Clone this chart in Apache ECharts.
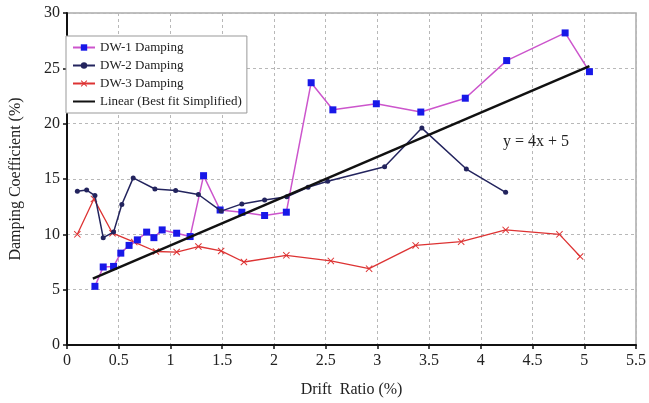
<!DOCTYPE html>
<html>
<head>
<meta charset="utf-8">
<script src="https://cdn.jsdelivr.net/npm/echarts@6/dist/echarts.min.js"></script>
<style>
  html, body { margin: 0; padding: 0; background: #fff; }
  #chart { width: 649px; height: 403px; }
</style>
</head>
<body>
<div id="chart"></div>
<script>
// Damping coefficient (%) against drift ratio (%) for three walls
const dw1Drift = [0.27, 0.35, 0.45, 0.52, 0.60, 0.68, 0.77, 0.84, 0.92, 1.06, 1.19, 1.32, 1.48, 1.69, 1.91, 2.12, 2.36, 2.57, 2.99, 3.42, 3.85, 4.25, 4.815, 5.05];
const dw1Damping = [5.3, 7.05, 7.1, 8.3, 9.0, 9.5, 10.2, 9.7, 10.4, 10.1, 9.8, 15.3, 12.2, 12.0, 11.7, 12.0, 23.7, 21.25, 21.8, 21.05, 22.3, 25.7, 28.2, 24.7];

const dw2Drift = [0.10, 0.19, 0.27, 0.35, 0.45, 0.53, 0.64, 0.85, 1.05, 1.27, 1.49, 1.69, 1.91, 2.125, 2.33, 2.52, 3.07, 3.43, 3.86, 4.24];
const dw2Damping = [13.9, 14.0, 13.5, 9.7, 10.2, 12.7, 15.1, 14.1, 13.96, 13.6, 12.1, 12.75, 13.1, 13.4, 14.25, 14.8, 16.1, 19.6, 15.9, 13.8];

const dw3Drift = [0.10, 0.26, 0.44, 0.65, 0.86, 1.06, 1.27, 1.49, 1.71, 2.12, 2.55, 2.92, 3.37, 3.81, 4.24, 4.76, 4.96];
const dw3Damping = [10.0, 13.2, 10.1, 9.3, 8.45, 8.4, 8.9, 8.5, 7.5, 8.1, 7.6, 6.9, 9.0, 9.34, 10.4, 10.0, 8.0];

// simplified best fit y = 4x + 5, drawn between its two end points
const fitDrift = [0.25, 5.05];
const fitDamping = [6.0, 25.2];

const seriesNames = ['DW-1 Damping', 'DW-2 Damping', 'DW-3 Damping', 'Linear (Best fit Simplified)'];
const equationText = 'y = 4x + 5';
const xTitle = 'Drift  Ratio (%)';
const yTitle = 'Damping Coefficient (%)';

const pairs = (xs, ys) => xs.map((x, i) => [x, ys[i]]);
const serif = 'Liberation Serif';
const crossSymbol = 'path://M0,1L1,0L5,4L9,0L10,1L6,5L10,9L9,10L5,6L1,10L0,9L4,5Z';

const chart = echarts.init(document.getElementById('chart'), null, { renderer: 'canvas' });

const gridLine = { show: true, lineStyle: { color: '#b8b8b8', type: [3, 3], width: 1 } };

chart.setOption({
  animation: false,
  backgroundColor: '#fff',
  grid: { left: 62, right: 13, top: 13, bottom: 56, show: true, borderColor: '#aaaaaa', borderWidth: 1.5 },
  xAxis: {
    type: 'value', min: 0, max: 5.5, interval: 0.5,
    name: xTitle, nameLocation: 'middle', nameGap: 37,
    nameTextStyle: { fontFamily: serif, fontSize: 16, color: '#222' },
    axisLine: { show: true, onZero: false, lineStyle: { color: '#111', width: 2 } },
    axisTick: { show: true, length: 4, lineStyle: { color: '#111', width: 1.5 } },
    axisLabel: { fontFamily: serif, fontSize: 16, color: '#222', margin: 8 },
    splitLine: gridLine
  },
  yAxis: {
    type: 'value', min: 0, max: 30, interval: 5,
    name: yTitle, nameLocation: 'middle', nameGap: 43,
    nameTextStyle: { fontFamily: serif, fontSize: 16, color: '#222' },
    axisLine: { show: true, onZero: false, lineStyle: { color: '#111', width: 2 } },
    axisTick: { show: true, length: 4, lineStyle: { color: '#111', width: 1.5 } },
    axisLabel: { fontFamily: serif, fontSize: 16, color: '#222', margin: 7 },
    splitLine: gridLine
  },
  legend: {
    orient: 'vertical', left: 66, top: 36,
    backgroundColor: '#fff', borderColor: '#999', borderWidth: 1,
    padding: [5, 5, 5, 6], itemGap: 5, itemWidth: 22, itemHeight: 8,
    textStyle: { fontFamily: serif, fontSize: 13, color: '#222' },
    data: [
      seriesNames[0],
      seriesNames[1],
      seriesNames[2],
      // the fit is a plain line, so its key shows no marker
      { name: seriesNames[3], itemStyle: { opacity: 0 } }
    ]
  },
  graphic: [{
    type: 'text', left: 503, top: 134,
    style: { text: equationText, font: '16px "Liberation Serif"', fill: '#222' }
  }],
  series: [
    {
      name: seriesNames[0], type: 'line', data: pairs(dw1Drift, dw1Damping),
      symbol: 'rect', symbolSize: 7,
      lineStyle: { color: '#cc55cc', width: 1.5 },
      itemStyle: { color: '#1818e8' }, z: 3
    },
    {
      name: seriesNames[1], type: 'line', data: pairs(dw2Drift, dw2Damping),
      symbol: 'circle', symbolSize: 5,
      lineStyle: { color: '#23245e', width: 1.5 },
      itemStyle: { color: '#23245e' }, z: 4
    },
    {
      name: seriesNames[2], type: 'line', data: pairs(dw3Drift, dw3Damping),
      symbol: crossSymbol, symbolSize: 7,
      lineStyle: { color: '#dd3333', width: 1.3 },
      itemStyle: { color: '#dd3333' }, z: 2
    },
    {
      name: seriesNames[3], type: 'line', data: pairs(fitDrift, fitDamping),
      symbol: 'none', showSymbol: false,
      lineStyle: { color: '#111', width: 2.5 },
      itemStyle: { color: '#111' }, z: 5
    }
  ]
});
</script>
</body>
</html>
